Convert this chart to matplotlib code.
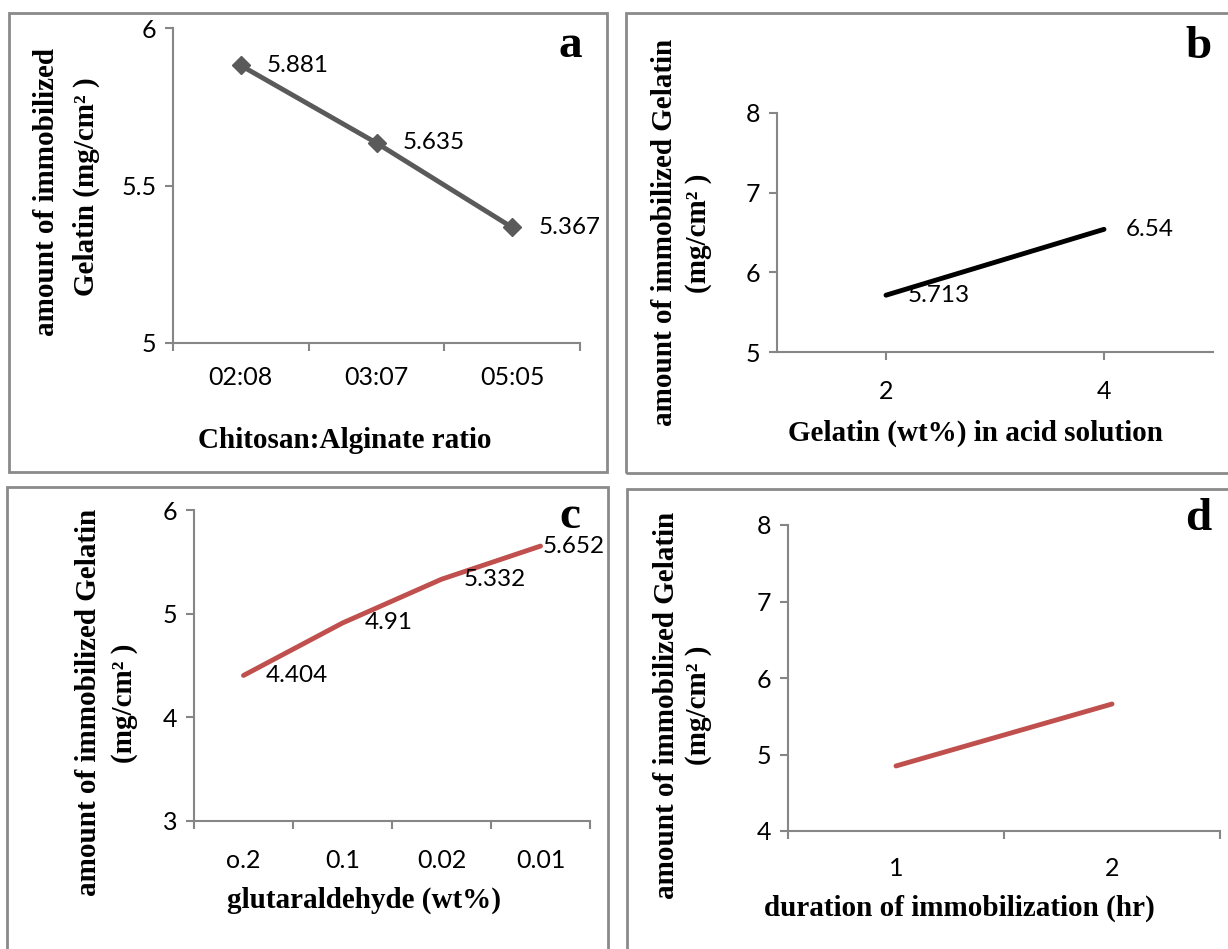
import matplotlib
matplotlib.use("Agg")
import matplotlib.pyplot as plt
from matplotlib.patches import Rectangle

W, H = 1228, 949

# panel a
ratio_labels = ["02:08", "03:07", "05:05"]
ratio_values = [5.881, 5.635, 5.367]
# panel b
gelatin_labels = ["2", "4"]
gelatin_values = [5.713, 6.54]
# panel c
glut_labels = ["o.2", "0.1", "0.02", "0.01"]
glut_values = [4.404, 4.91, 5.332, 5.652]
# panel d
duration_labels = ["1", "2"]
duration_values = [4.85, 5.66]

TICK_FONT = "Lato"
SERIF = "Liberation Serif"
AXIS_GRAY = "#868686"
RED = "#C0504D"

fig = plt.figure(figsize=(W / 100, H / 100), dpi=100)


def fx(x):
    return x / W


def fy(y):
    return 1 - y / H


def make_axes(x0, ytop, x1, ybot):
    ax = fig.add_axes([fx(x0), fy(ybot), (x1 - x0) / W, (ybot - ytop) / H])
    for s in ["top", "right"]:
        ax.spines[s].set_visible(False)
    for s in ["left", "bottom"]:
        ax.spines[s].set_color(AXIS_GRAY)
        ax.spines[s].set_linewidth(1.5)
    ax.tick_params(axis="both", colors=AXIS_GRAY, width=1.5, length=6,
                   labelcolor="black", labelsize=18)
    ax.tick_params(axis="y", pad=6)
    return ax


def category_axis(ax, labels, pad, ticks_between=True):
    n = len(labels)
    centers = [i + 0.5 for i in range(n)]
    ax.set_xlim(0, n)
    if ticks_between:
        ax.set_xticks(range(n + 1))
        ax.set_xticklabels([""] * (n + 1))
        ax.set_xticks(centers, labels, minor=True)
        ax.tick_params(axis="x", which="minor", length=0, pad=pad, labelsize=18)
    else:
        ax.set_xticks(centers, labels)
        ax.tick_params(axis="x", pad=pad)
    for lab in (ax.get_xticklabels(minor=True) + ax.get_xticklabels()
                + ax.get_yticklabels()):
        lab.set_fontfamily(TICK_FONT)
    return centers


def data_labels(ax, xs, ys, offsets):
    for x, y, off in zip(xs, ys, offsets):
        ax.annotate(f"{y:g}", (x, y), xytext=(off, 0), textcoords="offset pixels",
                    ha="left", va="center", fontsize=17.5, family=TICK_FONT)


def box(x0, y0, x1, y1):
    fig.add_artist(Rectangle((fx(x0), fy(y1)), (x1 - x0) / W, (y1 - y0) / H,
                             transform=fig.transFigure, fill=False,
                             edgecolor="#8a8a8a", linewidth=2))


def ylabel_lines(lines):
    for text, x, y in lines:
        fig.text(fx(x), fy(y), text, rotation=90, ha="center", va="center",
                 family=SERIF, weight="bold", fontsize=21)


def xlabel(text, x, y):
    fig.text(fx(x), fy(y), text, ha="center", va="center",
             family=SERIF, weight="bold", fontsize=21)


def panel_letter(letter, x, y):
    fig.text(fx(x), fy(y), letter, ha="center", va="baseline",
             family=SERIF, weight="bold", fontsize=34)


# ---- panel a ----
box(9, 13, 607, 472)
ax = make_axes(173, 28, 580, 343)
ax.set_ylim(5, 6)
ax.set_yticks([5, 5.5, 6], ["5", "5.5", "6"])
xs = category_axis(ax, ratio_labels, pad=16.5)
ax.plot(xs, ratio_values, color="#5a5a5a", linewidth=3.5, marker="D", markersize=9)
data_labels(ax, xs, ratio_values, [26, 26, 26])
ylabel_lines([("amount of immobilized", 47, 192), ("Gelatin (mg/cm² )", 86, 187)])
xlabel("Chitosan:Alginate ratio", 345, 440)
panel_letter("a", 570, 57)

# ---- panel b ----
box(626, 13, 1240, 473)
ax = make_axes(777, 113, 1213, 352)
ax.set_ylim(5, 8)
ax.set_yticks([5, 6, 7, 8])
xs = category_axis(ax, gelatin_labels, pad=14, ticks_between=False)
ax.plot(xs, gelatin_values, color="black", linewidth=3.5, solid_capstyle="round")
data_labels(ax, xs, gelatin_values, [22, 22])
ylabel_lines([("amount of immobilized Gelatin", 664, 232), ("(mg/cm² )", 699, 233)])
xlabel("Gelatin (wt%) in acid solution", 975, 433)
panel_letter("b", 1198, 58)

# ---- panel c ----
box(7, 487, 608, 960)
ax = make_axes(194, 510, 590, 821)
ax.set_ylim(3, 6)
ax.set_yticks([3, 4, 5, 6])
xs = category_axis(ax, glut_labels, pad=20)
ax.plot(xs, glut_values, color=RED, linewidth=3.5, solid_capstyle="round")
data_labels(ax, xs, glut_values, [22, 22, 22, 2])
ylabel_lines([("amount of immobilized Gelatin", 89, 702), ("(mg/cm² )", 125, 703)])
xlabel("glutaraldehyde (wt%)", 364, 900)
panel_letter("c", 570, 528)

# ---- panel d ----
box(627, 489, 1240, 960)
ax = make_axes(788, 525, 1220, 831)
ax.set_ylim(4, 8)
ax.set_yticks([4, 5, 6, 7, 8])
xs = category_axis(ax, duration_labels, pad=19)
ax.plot(xs, duration_values, color=RED, linewidth=3.5, solid_capstyle="round")
ylabel_lines([("amount of immobilized Gelatin", 666, 705), ("(mg/cm² )", 699, 705)])
xlabel("duration of immobilization (hr)", 959, 908)
panel_letter("d", 1198, 530)

fig.savefig("out.png", dpi=100)
